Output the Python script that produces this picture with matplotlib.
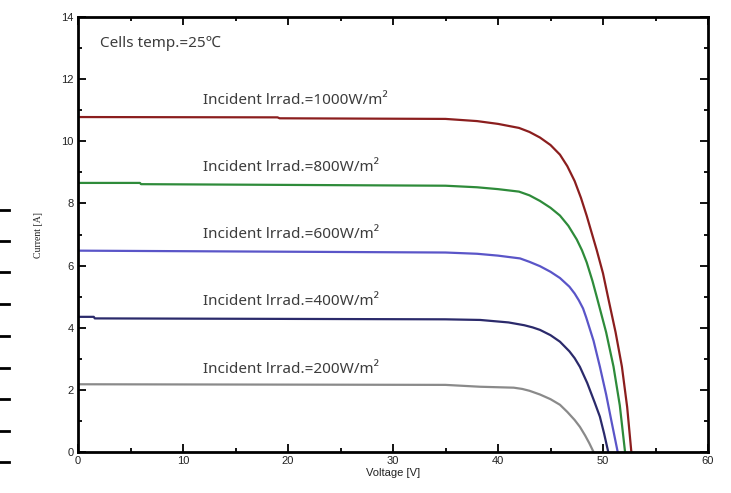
import matplotlib
matplotlib.use("Agg")
import matplotlib.pyplot as plt
from matplotlib.lines import Line2D
from matplotlib.ticker import MultipleLocator

# I-V curves (voltage [V], current [A])
v_1000 = [0, 19.0, 19.2, 35, 38, 40, 42, 43, 44, 45, 45.9, 46.6, 47.3, 47.9, 48.45,
          49.4, 50.0, 50.5, 51.2, 51.8, 52.3, 52.7]
i_1000 = [10.78, 10.77, 10.74, 10.72, 10.65, 10.56, 10.43, 10.30, 10.12, 9.88, 9.57,
          9.20, 8.72, 8.18, 7.60, 6.50, 5.75, 4.95, 3.85, 2.75, 1.45, 0]

v_800 = [0, 5.9, 6.0, 35, 38, 40, 42, 43, 44, 45, 45.9, 46.7, 47.5, 48.0, 48.45,
         49.0, 49.4, 50.3, 51.0, 51.6, 52.1]
i_800 = [8.66, 8.66, 8.62, 8.57, 8.52, 8.46, 8.38, 8.26, 8.08, 7.86, 7.61, 7.28,
         6.84, 6.49, 6.10, 5.50, 5.00, 3.85, 2.75, 1.50, 0]

v_600 = [0, 35, 38, 40, 42.1, 43, 44, 45, 45.9, 46.8, 47.3, 47.7, 48.1, 48.4,
         49.1, 49.7, 50.3, 50.8, 51.4]
i_600 = [6.48, 6.42, 6.38, 6.32, 6.23, 6.12, 5.98, 5.80, 5.60, 5.32, 5.10, 4.88,
         4.62, 4.33, 3.58, 2.75, 1.85, 1.00, 0]

v_400 = [0, 1.5, 1.6, 35, 38.3, 41, 42.5, 43.3, 44, 45, 45.9, 46.8, 47.3, 47.8,
         48.5, 49.2, 49.7, 50.1, 50.5]
i_400 = [4.35, 4.35, 4.30, 4.27, 4.25, 4.17, 4.08, 4.01, 3.93, 3.76, 3.55, 3.24,
         3.02, 2.74, 2.22, 1.60, 1.14, 0.60, 0]

v_200 = [0, 35, 38.3, 41.5, 42.3, 43, 44, 45, 45.9, 46.6, 47.3, 47.8, 48.3, 48.7, 49.1]
i_200 = [2.18, 2.16, 2.10, 2.07, 2.03, 1.97, 1.85, 1.70, 1.52, 1.29, 1.03, 0.81,
         0.53, 0.28, 0]

curves = [
    (v_1000, i_1000, "#8B1E1E", "Incident lrrad.=1000W/m\u00b2", 11.3),
    (v_800, i_800, "#2E8B3A", "Incident lrrad.=800W/m\u00b2", 9.15),
    (v_600, i_600, "#5A55C8", "Incident lrrad.=600W/m\u00b2", 7.0),
    (v_400, i_400, "#2B2A6B", "Incident lrrad.=400W/m\u00b2", 4.85),
    (v_200, i_200, "#8A8A8A", "Incident lrrad.=200W/m\u00b2", 2.65),
]

fig = plt.figure(figsize=(7.31, 4.93), dpi=100)
ax = fig.add_axes([78 / 731, 41 / 493, 630 / 731, 435 / 493])

for v, i, col, label, ty in curves:
    ax.plot(v, i, color=col, lw=1.6, solid_joinstyle="round")
    ax.text(11.9, ty, label, fontsize=11, color="#3c3c3c", va="center",
            family=["Noto Sans", "DejaVu Sans"])

ax.text(2.1, 13.15, "Cells temp.=25\u2103", fontsize=11, color="#3c3c3c", va="center",
        family=["Noto Sans", "DejaVu Sans"])

ax.set_xlim(0, 60)
ax.set_ylim(0, 14)
ax.xaxis.set_major_locator(MultipleLocator(10))
ax.xaxis.set_minor_locator(MultipleLocator(5))
ax.yaxis.set_major_locator(MultipleLocator(2))
ax.yaxis.set_minor_locator(MultipleLocator(1))
ax.tick_params(which="both", direction="in", top=True, right=True, width=1.3,
               labelsize=8, labelcolor="#222222", pad=3)
ax.tick_params(which="major", length=6)
ax.tick_params(which="minor", length=3)
for lab in ax.get_xticklabels() + ax.get_yticklabels():
    lab.set_family("Liberation Sans")
for s in ax.spines.values():
    s.set_linewidth(2)

ax.set_xlabel("Voltage [V]", fontsize=8, family="Liberation Sans", color="#222222", labelpad=1)
ax.set_ylabel("Current [A]", fontsize=7, family="Liberation Serif", color="#222222", labelpad=13)

# stray dashes at the left edge of the source image
for y in [210, 241, 272, 304, 336, 368, 399, 431, 462]:
    fig.add_artist(Line2D([0, 9 / 731], [1 - y / 493] * 2, transform=fig.transFigure,
                          color="black", lw=2))

fig.savefig("out.png", dpi=100)
